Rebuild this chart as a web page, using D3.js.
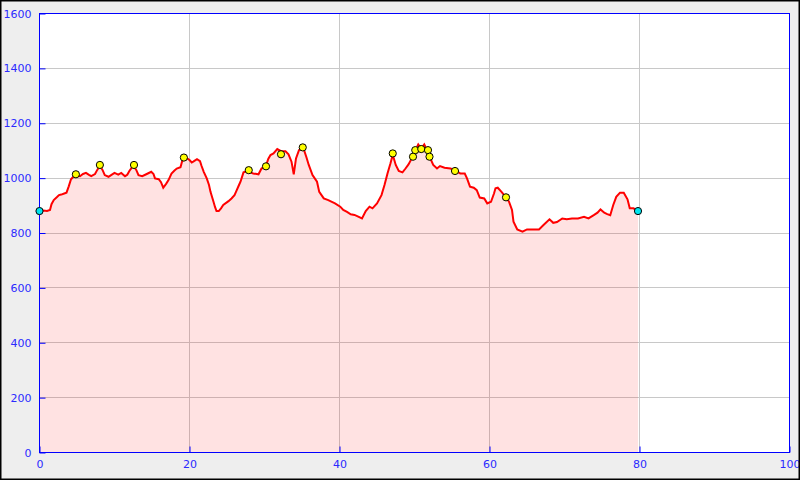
<!DOCTYPE html>
<html><head><meta charset="utf-8">
<script src="https://cdn.jsdelivr.net/npm/d3@7"></script>
<style>
html,body{margin:0;padding:0;background:#eeeeee;}
svg{display:block;}
</style></head>
<body>
<svg id="c" width="800" height="480"></svg>
<script>
const distKm = [0,0.5,1.0,1.4,1.6,1.9,2.3,2.6,2.9,3.3,3.6,3.9,4.2,4.5,4.9,5.4,5.8,6.2,6.6,6.9,7.4,7.7,8.05,8.4,8.7,9.2,9.6,10.0,10.5,10.9,11.4,11.7,12.0,12.5,12.9,13.2,13.7,14.3,14.9,15.2,15.4,15.9,16.2,16.5,16.9,17.2,17.6,18.0,18.3,18.8,19.0,19.3,19.7,20.0,20.3,20.5,21.0,21.4,21.6,21.9,22.3,22.6,22.8,23.2,23.4,23.6,23.9,24.2,24.5,25.2,25.6,26.0,26.3,26.6,26.8,27.2,27.6,28.0,28.5,29.2,29.6,30.2,30.5,30.8,31.2,31.7,32.2,32.8,33.2,33.6,33.9,34.2,34.6,35.0,35.3,35.6,35.9,36.4,37.0,37.3,37.9,38.5,39.4,40.1,40.5,41.0,41.5,42.0,42.5,43.0,43.5,44.0,44.4,45.0,45.6,46.0,46.4,46.8,47.1,47.5,47.9,48.4,48.8,49.2,49.6,50.1,50.5,50.9,51.3,51.7,52.0,52.5,53.0,53.4,54.0,54.8,55.4,56.1,56.7,57.0,57.4,57.9,58.3,58.7,59.3,59.7,60.2,60.6,60.8,61.1,61.6,62.2,62.6,63.0,63.2,63.7,64.4,65.0,65.7,66.6,67.2,68.0,68.5,69.0,69.7,70.3,71.0,71.8,72.6,73.2,73.9,74.4,74.8,75.3,75.7,76.1,76.5,76.9,77.4,77.9,78.4,78.7,79.2,79.8];
const elevM = [880,882,880,884,905,920,930,938,940,944,947,970,996,1005,1010,1007,1015,1019,1012,1007,1015,1030,1045,1030,1011,1005,1012,1019,1013,1019,1007,1012,1027,1045,1030,1011,1007,1015,1023,1015,999,996,985,965,980,993,1017,1028,1035,1040,1060,1075,1072,1066,1057,1060,1069,1062,1045,1023,999,975,950,914,895,880,880,890,902,916,926,938,956,975,987,1021,1025,1022,1017,1014,1035,1045,1070,1084,1090,1106,1098,1098,1087,1060,1014,1072,1102,1110,1100,1075,1048,1011,987,950,926,920,908,896,884,877,868,866,860,853,880,896,890,908,938,975,1017,1054,1085,1048,1026,1021,1035,1050,1070,1100,1123,1108,1123,1100,1078,1048,1035,1044,1038,1035,1028,1017,1017,999,969,965,956,929,926,908,914,944,963,965,950,930,914,884,841,813,805,813,813,813,829,850,837,840,853,850,853,853,859,853,865,874,886,874,869,865,902,932,947,947,923,890,890,880];
const waypointKm = [4.85,8.05,12.6,19.25,27.9,30.2,32.2,35.1,47.1,49.8,50.1,50.9,51.8,52.0,55.4,62.2];
const waypointElev = [1014,1048,1048,1075,1029,1043,1087,1112,1090,1078,1102,1106,1102,1078,1026,930];
const endKm = [0,79.8];
const endElev = [880,880];
const xTicks = [0,20,40,60,80,100];
const yTicks = [0,200,400,600,800,1000,1200,1400,1600];

const svg = d3.select('#c');
const L = 39.5, R = 789.5, T = 13.5, B = 452.5;
const x = d3.scaleLinear().domain([0,100]).range([L,R]);
const y = d3.scaleLinear().domain([0,1600]).range([B,T]);
const blue = '#0000ff';
const labBlue = '#2a2aff';

svg.append('rect').attr('x',0).attr('y',0).attr('width',800).attr('height',480).attr('fill','#eeeeee');
svg.append('rect').attr('x',L).attr('y',T).attr('width',R-L).attr('height',B-T).attr('fill','#ffffff');

// grid
svg.append('g').selectAll('line').data(xTicks.slice(1,-1)).join('line')
  .attr('x1',d=>Math.floor(x(d))+0.5).attr('x2',d=>Math.floor(x(d))+0.5).attr('y1',T).attr('y2',B)
  .attr('stroke','#c8c8c8').attr('stroke-width',1);
svg.append('g').selectAll('line').data(yTicks.slice(1,-1)).join('line')
  .attr('x1',L).attr('x2',R).attr('y1',d=>Math.floor(y(d))+0.5).attr('y2',d=>Math.floor(y(d))+0.5)
  .attr('stroke','#c8c8c8').attr('stroke-width',1);

const pts = distKm.map((d,i)=>[d,elevM[i]]);
const area = d3.area().x(d=>x(d[0])).y0(y(0)).y1(d=>y(d[1]));
svg.append('path').datum(pts).attr('d',area).attr('fill','rgba(255,0,0,0.115)');
const line = d3.line().x(d=>x(d[0])).y(d=>y(d[1]));
svg.append('path').datum(pts).attr('d',line).attr('fill','none').attr('stroke','#ff0000').attr('stroke-width',2).attr('stroke-linejoin','miter');

// axes
const yAxis = d3.axisLeft(y).tickValues(yTicks).tickSizeInner(-6).tickSizeOuter(0).tickPadding(8).tickFormat(d3.format('d'));
const gy = svg.append('g').attr('transform',`translate(${L},0)`).call(yAxis);
const xAxis = d3.axisBottom(x).tickValues(xTicks).tickSizeInner(-6).tickSizeOuter(0).tickPadding(5).tickFormat(d3.format('d'));
const gx = svg.append('g').attr('transform',`translate(0,${B})`).call(xAxis);
[gy,gx].forEach(g=>{
  g.select('.domain').remove();
  g.selectAll('.tick line').attr('stroke',blue).attr('stroke-width',1);
  g.selectAll('.tick text').attr('fill',labBlue).attr('font-family','DejaVu Sans').attr('font-size',11);
});
gx.selectAll('.tick text').attr('dy','0.95em');

svg.append('rect').attr('x',L).attr('y',T).attr('width',R-L).attr('height',B-T)
  .attr('fill','none').attr('stroke',blue).attr('stroke-width',1);

// markers
svg.append('g').selectAll('circle').data(waypointKm.map((d,i)=>[d,waypointElev[i]])).join('circle')
  .attr('cx',d=>x(d[0])).attr('cy',d=>y(d[1])).attr('r',3.6)
  .attr('fill','#ffff00').attr('stroke','#000').attr('stroke-width',1);
svg.append('g').selectAll('circle').data(endKm.map((d,i)=>[d,endElev[i]])).join('circle')
  .attr('cx',d=>x(d[0])).attr('cy',d=>y(d[1])).attr('r',3.6)
  .attr('fill','#00e5ee').attr('stroke','#000').attr('stroke-width',1);

svg.append('rect').attr('x',0.75).attr('y',0.75).attr('width',798.5).attr('height',478.5)
  .attr('fill','none').attr('stroke','#000').attr('stroke-width',1.5);
</script>
</body></html>
